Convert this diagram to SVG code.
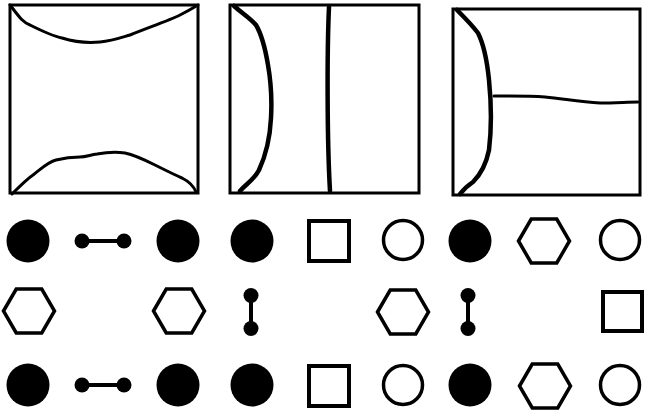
<svg xmlns="http://www.w3.org/2000/svg" width="645" height="411" viewBox="0 0 645 411">
<style>
.box{fill:none;stroke:#000;stroke-width:3}
.crv{fill:none;stroke:#000;stroke-width:3;stroke-linecap:round;stroke-linejoin:round}
.thick{stroke-width:4.5}
.fc{fill:#000}
.oc{fill:#fff;stroke:#000;stroke-width:3.5}
.sq{fill:#fff;stroke:#000;stroke-width:4}
.hx{fill:#fff;stroke:#000;stroke-width:3.5}
.db{stroke:#000;stroke-width:4}
</style>
<defs>
<polygon id="hex" points="-25.5,0 -12.75,-22 12.75,-22 25.5,0 12.75,22 -12.75,22" class="hx"/>
<g id="dbh"><line x1="-21" y1="0" x2="21" y2="0" class="db"/><circle cx="-21" cy="0" r="7.5" class="fc"/><circle cx="21" cy="0" r="7.5" class="fc"/></g>
<g id="dbv"><line x1="0" y1="-16.5" x2="0" y2="16.5" class="db"/><circle cx="0" cy="-16.5" r="7.5" class="fc"/><circle cx="0" cy="16.5" r="7.5" class="fc"/></g>
</defs>
<g id="panel1">
<rect x="10" y="5" width="188" height="188" class="box"/>
<path class="crv" d="M10,5 C18,15 22,22 30,25 C42,31 52,36 62,38 C75,42 90,43 100,42 C112,41 120,38 130,35 C150,27 170,20 180,15 C188,11 193,8 198,5"/>
<path class="crv" d="M12,194 C20,186 27,179 33,175 C42,168 48,162 56,160 C64,158 70,157 80,157 C86,157 90,155 97,154 C108,152 118,152 125,153 C135,155 145,160 155,165 C165,170 175,175 182,178 C190,182 194,187 196,192"/>
</g>
<g id="panel2">
<rect x="230" y="5" width="189" height="188" class="box"/>
<path class="crv thick" d="M234,6 C243,14 250,18 256,25 C262,35 265,47 268,65 C271,82 272,100 271,118 C270,138 266,155 259,170 C254,180 246,184 240,191"/>
<path class="crv thick" d="M329,7 C327,50 327,140 330,191"/>
</g>
<g id="panel3">
<rect x="453" y="9" width="187" height="186" class="box"/>
<path class="crv thick" d="M457,10 C465,18 472,25 478,33 C484,45 487,60 489,80 C491,100 492,125 489,150 C486,165 480,175 473,182 C467,186 463,190 460,194"/>
<path class="crv" d="M494,96 C515,96 530,96 545,97 C565,99 580,102 600,103 C615,103 628,102 638,102"/>
</g>
<g id="row1">
<g id="n1-1"><circle cx="28" cy="241" r="21.5" class="fc"/></g>
<g id="n1-2"><use href="#dbh" x="103" y="241"/></g>
<g id="n1-3"><circle cx="178" cy="241" r="21.5" class="fc"/></g>
<g id="n1-4"><circle cx="252" cy="241" r="21.5" class="fc"/></g>
<g id="n1-5"><rect x="309" y="221" width="40" height="40" class="sq"/></g>
<g id="n1-6"><circle cx="403" cy="240" r="19.5" class="oc"/></g>
<g id="n1-7"><circle cx="470" cy="241" r="21.5" class="fc"/></g>
<g id="n1-8"><use href="#hex" x="544" y="241"/></g>
<g id="n1-9"><circle cx="620" cy="240" r="19.5" class="oc"/></g>
</g>
<g id="row2">
<g id="n2-1"><use href="#hex" x="29" y="311"/></g>
<g id="n2-2"><use href="#hex" x="179" y="311"/></g>
<g id="n2-3"><use href="#dbv" x="251" y="312"/></g>
<g id="n2-4"><use href="#hex" x="403" y="312"/></g>
<g id="n2-5"><use href="#dbv" x="468" y="312"/></g>
<g id="n2-6"><rect x="603" y="292" width="39" height="39" class="sq"/></g>
</g>
<g id="row3">
<g id="n3-1"><circle cx="28" cy="385" r="21.5" class="fc"/></g>
<g id="n3-2"><use href="#dbh" x="103" y="385"/></g>
<g id="n3-3"><circle cx="178" cy="385" r="21.5" class="fc"/></g>
<g id="n3-4"><circle cx="252" cy="385" r="21.5" class="fc"/></g>
<g id="n3-5"><rect x="309" y="366" width="40" height="40" class="sq"/></g>
<g id="n3-6"><circle cx="403" cy="385" r="19.5" class="oc"/></g>
<g id="n3-7"><circle cx="470" cy="385" r="21.5" class="fc"/></g>
<g id="n3-8"><use href="#hex" x="545" y="386"/></g>
<g id="n3-9"><circle cx="620" cy="385" r="19.5" class="oc"/></g>
</g>
<g id="connectors"></g>
</svg>
